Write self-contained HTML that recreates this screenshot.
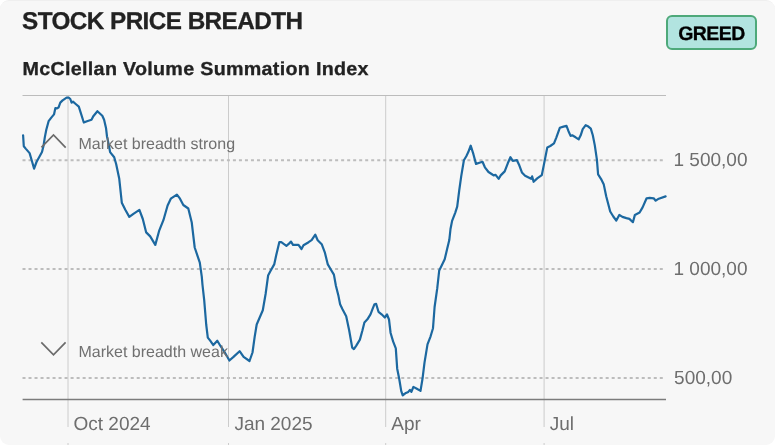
<!DOCTYPE html>
<html><head><meta charset="utf-8"><style>
html,body{margin:0;padding:0;background:#fff;}
body{width:775px;height:445px;overflow:hidden;}
.card{position:absolute;left:0;top:0;width:775px;height:445px;box-sizing:border-box;background:#f7f7f7;border-radius:9px;border-top:1.5px solid #efefef;}
svg{position:absolute;left:0;top:0;will-change:transform;}
text{font-family:"Liberation Sans",Arial,sans-serif;text-rendering:geometricPrecision;}
</style></head><body>
<div class="card"></div>
<svg width="775" height="445" viewBox="0 0 775 445">
<text x="22" y="29.25" font-size="24.3" font-weight="bold" fill="#222" stroke="#222" stroke-width="0.3" letter-spacing="-0.56">STOCK PRICE BREADTH</text>
<text transform="translate(22.6 75.3) scale(1.05 1)" font-size="18.8" font-weight="bold" fill="#222" stroke="#222" stroke-width="0.3" letter-spacing="0.27">McClellan Volume Summation Index</text>
<rect x="667" y="16" width="89" height="33" rx="5" ry="5" fill="#b2e4e0" stroke="#4ea97a" stroke-width="2"/>
<text x="711.5" y="39.5" font-size="19.5" font-weight="bold" fill="#000" stroke="#000" stroke-width="0.3" letter-spacing="-0.55" text-anchor="middle">GREED</text>
<line x1="22.5" y1="95.5" x2="666" y2="95.5" stroke="#bcbcbc" stroke-width="1"/>
<g stroke="#cccccc" stroke-width="1">
<line x1="68" y1="96" x2="68" y2="427"/>
<line x1="228.5" y1="96" x2="228.5" y2="427"/>
<line x1="385.7" y1="96" x2="385.7" y2="427"/>
<line x1="544.1" y1="96" x2="544.1" y2="427"/>
<line x1="68" y1="443" x2="68" y2="445"/>
<line x1="228.5" y1="443" x2="228.5" y2="445"/>
<line x1="385.7" y1="443" x2="385.7" y2="445"/>
<line x1="544.1" y1="443" x2="544.1" y2="445"/>
</g>
<g stroke="#bdbdbd" stroke-width="1.9" stroke-dasharray="3.006 3.006">
<line x1="22.5" y1="160.2" x2="664" y2="160.2"/>
<line x1="22.5" y1="269" x2="664" y2="269"/>
<line x1="22.5" y1="378" x2="664" y2="378"/>
</g>
<line x1="22.6" y1="399.5" x2="666" y2="399.5" stroke="#7c7c7c" stroke-width="1.6"/>
<path d="M23.1 135.3 L23.8 146.3 L25.7 148.6 L29.6 153.1 L31.9 161.0 L34.1 168.6 L36.5 162.0 L42.0 152.0 L43.6 145.5 L44.8 137.4 L46.3 129.7 L48.6 121.2 L51.3 117.6 L54.0 114.4 L55.4 108.1 L56.7 108.5 L58.5 107.6 L60.3 102.6 L62.6 100.4 L64.8 98.9 L66.6 97.7 L68.9 97.7 L70.3 99.0 L71.6 102.6 L73.0 101.7 L75.7 104.0 L78.8 106.7 L80.7 112.6 L83.8 122.5 L87.0 121.2 L91.5 119.8 L93.3 116.2 L97.4 111.2 L102.3 115.7 L104.1 119.8 L106.0 127.9 L107.0 136.5 L109.0 146.0 L110.1 152.1 L114.2 157.2 L116.2 164.3 L119.2 178.4 L121.8 202.7 L125.3 209.8 L129.3 216.9 L133.4 213.8 L139.4 209.8 L142.8 219.0 L146.2 232.4 L150.2 236.4 L155.3 244.9 L159.3 230.3 L163.4 220.2 L167.6 205.5 L170.8 198.7 L176.9 194.6 L180.0 198.7 L183.3 205.0 L188.3 208.5 L191.7 222.2 L194.7 247.5 L199.8 262.7 L201.8 276.9 L202.5 285.0 L204.2 300.2 L206.2 324.5 L207.8 337.6 L210.2 340.7 L213.3 345.1 L217.3 340.7 L220.3 345.7 L224.4 351.8 L229.4 360.5 L233.5 356.9 L239.6 351.2 L243.6 356.9 L249.5 361.0 L252.5 352.5 L254.7 336.6 L256.7 324.5 L262.8 310.3 L265.6 294.0 L268.1 275.6 L270.2 271.5 L274.2 264.4 L276.2 255.3 L279.3 242.2 L281.3 242.2 L286.4 245.8 L289.0 243.6 L291.0 241.6 L293.0 244.8 L298.5 244.8 L301.5 249.0 L303.5 245.2 L308.6 242.2 L311.6 240.2 L315.3 234.7 L317.7 240.2 L321.7 244.2 L324.8 252.3 L327.8 264.4 L330.8 269.5 L333.9 274.6 L335.9 285.7 L338.5 296.1 L340.1 304.2 L342.5 309.2 L346.2 316.3 L349.2 330.5 L352.2 347.6 L353.9 349.1 L356.3 345.6 L359.9 339.6 L362.4 330.5 L364.4 322.4 L367.4 319.3 L370.5 314.3 L372.5 309.2 L374.5 304.2 L376.1 303.8 L378.5 311.8 L381.6 314.3 L384.8 317.5 L387.0 314.5 L389.0 319.5 L390.6 333.0 L393.1 341.4 L395.8 348.4 L397.2 368.7 L399.2 378.8 L401.2 390.9 L402.7 395.4 L405.3 393.3 L408.3 391.9 L409.9 389.9 L411.4 391.9 L413.4 386.9 L416.4 388.5 L420.5 390.9 L422.5 378.8 L424.5 362.6 L427.5 344.4 L430.6 336.3 L433.0 328.2 L434.6 307.0 L437.2 288.7 L439.2 270.5 L441.2 266.4 L444.7 259.3 L447.3 248.2 L449.3 240.1 L450.5 229.0 L452.1 220.9 L455.2 212.8 L457.2 206.7 L459.2 190.6 L461.2 176.4 L463.9 160.2 L466.3 156.2 L468.3 152.1 L470.7 145.7 L473.4 154.2 L476.0 163.9 L479.4 162.7 L482.5 161.8 L484.9 167.3 L488.5 172.0 L491.6 174.0 L493.6 175.4 L495.6 174.8 L498.7 178.8 L500.7 175.4 L504.7 171.4 L507.8 163.3 L510.4 157.2 L512.8 160.8 L516.9 160.2 L519.3 165.3 L521.9 172.4 L525.1 175.7 L529.1 177.8 L531.1 178.8 L532.1 176.3 L533.6 181.8 L537.2 178.4 L541.8 175.1 L544.7 160.6 L547.3 147.4 L550.3 146.0 L554.0 143.4 L556.4 137.3 L559.8 127.8 L563.5 126.6 L566.5 125.8 L568.5 131.2 L570.6 135.9 L572.2 135.3 L575.6 137.3 L578.7 139.3 L580.7 135.3 L582.7 129.2 L585.7 125.2 L588.4 126.6 L590.8 128.6 L592.8 135.3 L594.8 145.4 L596.9 159.6 L598.1 174.4 L601.1 179.1 L603.8 184.6 L606.2 196.3 L610.2 211.5 L613.3 216.5 L616.3 220.6 L619.3 214.9 L622.4 216.9 L626.4 218.1 L629.4 218.9 L632.9 222.2 L634.9 214.9 L639.6 212.5 L642.6 207.4 L646.6 198.3 L649.7 197.9 L653.7 198.3 L655.7 200.7 L658.8 198.7 L665.6 196.4" fill="none" stroke="#1c68a0" stroke-width="2.2" stroke-linejoin="round" stroke-linecap="round"/>
<text x="78.5" y="149" font-size="16" fill="#707070">Market breadth strong</text>
<text x="78.5" y="357" font-size="16" fill="#707070">Market breadth weak</text>
<g fill="none" stroke="#6b6b6b" stroke-width="1.7">
<polyline points="41.4,147.4 53.5,134.9 65.7,147.7"/>
<polyline points="41.3,342.4 53.5,354.8 65.6,342.4"/>
</g>
<g font-size="19" fill="#6e6e6e" letter-spacing="0">
<text x="673.5" y="166.1">1 500,00</text>
<text x="673.5" y="275.3">1 000,00</text>
<text x="674.1" y="384">500,00</text>
<text x="73.5" y="429.5">Oct 2024</text>
<text x="234.4" y="429.5">Jan 2025</text>
<text x="391.3" y="429.5">Apr</text>
<text x="549.8" y="429.5">Jul</text>
</g>
</svg>
</body></html>
